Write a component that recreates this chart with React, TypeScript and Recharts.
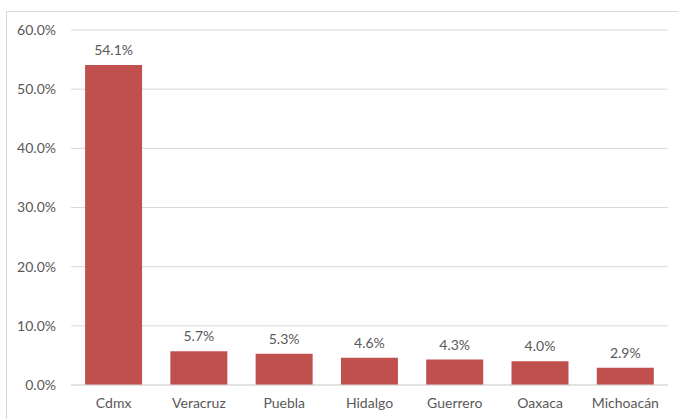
import { BarChart, Bar, XAxis, YAxis, CartesianGrid, LabelList } from "recharts"

const estados = ["Cdmx", "Veracruz", "Puebla", "Hidalgo", "Guerrero", "Oaxaca", "Michoacán"]
const porcentajes = [54.1, 5.7, 5.3, 4.6, 4.3, 4.0, 2.9]
const yTicks = [0, 10, 20, 30, 40, 50, 60]

const data = estados.map((name, i) => ({ name, valor: porcentajes[i] }))

const textColor = "#595959"
const font = "Lato, 'Open Sans', sans-serif"

export default function App() {
  return (
    <div style={{ position: "fixed", left: 0, top: 0, width: 678, height: 419, background: "#fff", overflow: "hidden", fontFamily: font }}>
      <div style={{ position: "absolute", left: 6, top: 11, width: 700, height: 450, border: "1px solid #D9D9D9", boxSizing: "border-box" }} />
      <BarChart
        width={678}
        height={419}
        data={data}
        margin={{ top: 30, right: 10, left: 0, bottom: 0 }}
        barCategoryGap="16.5%"
      >
        <CartesianGrid stroke="#D9D9D9" vertical={false} />
        <XAxis
          dataKey="name"
          height={34}
          tickLine={false}
          axisLine={{ stroke: "#D9D9D9" }}
          tickSize={0}
          tickMargin={13}
          tick={{ fill: textColor, fontSize: 14, fontFamily: font }}
          interval={0}
        />
        <YAxis
          width={71}
          domain={[0, 60]}
          ticks={yTicks}
          tickLine={false}
          axisLine={false}
          tickSize={0}
          tickMargin={15}
          tick={{ fill: textColor, fontSize: 14, fontFamily: font }}
          tickFormatter={(v) => `${v.toFixed(1)}%`}
        />
        <Bar dataKey="valor" fill="#C0504D" isAnimationActive={false}>
          <LabelList
            dataKey="valor"
            position="top"
            offset={10}
            fill={textColor}
            fontSize={14}
            fontFamily={font}
            formatter={(v: any) => `${Number(v).toFixed(1)}%`}
          />
        </Bar>
      </BarChart>
    </div>
  )
}
